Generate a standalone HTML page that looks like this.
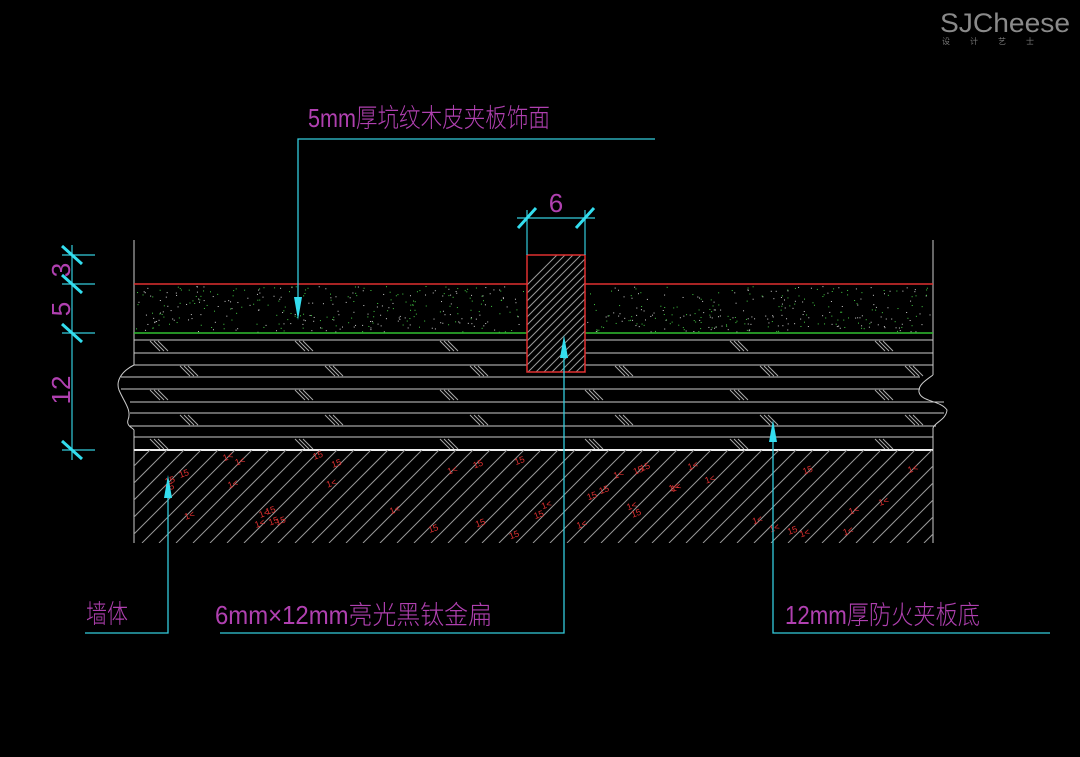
<!DOCTYPE html>
<html><head><meta charset="utf-8"><style>
html,body{margin:0;padding:0;background:#000;width:1080px;height:757px;overflow:hidden}
text{font-family:"Liberation Sans","Noto Sans CJK SC",sans-serif}
</style></head><body>
<svg id="s" width="1080" height="757" viewBox="0 0 1080 757" xmlns="http://www.w3.org/2000/svg">
<defs>
<clipPath id="wall"><rect x="134" y="450" width="799" height="93"/></clipPath>
<clipPath id="box"><rect x="527" y="255" width="58" height="117"/></clipPath>
</defs>
<rect width="1080" height="757" fill="#000"/>
<text x="940" y="32" font-size="27" fill="#8a8a8a" textLength="130" lengthAdjust="spacingAndGlyphs">SJCheese</text>
<text x="942" y="44" font-size="8" fill="#777" letter-spacing="20">设计艺士</text>

<g id="dots"></g>
<g stroke="#ccc" stroke-width="1" fill="none">
<line x1="134" y1="240" x2="134" y2="365"/>
<line x1="134" y1="430" x2="134" y2="543"/>
<path d="M134 365 C120 372 116 382 119 390 C124 402 132 410 128 420 C126 426 133 428 134 430"/>
<line x1="933" y1="240" x2="933" y2="375"/>
<line x1="933" y1="428" x2="933" y2="543"/>
<path d="M933 375 C926 380 918 385 919 392 C921 402 940 400 947 410 C946 420 935 422 933 428"/>
<g id="hl"></g>
<g id="ht"></g>
</g>
<line x1="134" y1="450" x2="933" y2="450" stroke="#eee" stroke-width="2"/>
<g clip-path="url(#wall)" stroke="#999" stroke-width="1" id="wh"></g>
<g id="red" fill="#e03030" font-size="9"></g>
<line x1="134" y1="284" x2="527" y2="284" stroke="#e03030" stroke-width="1.5"/>
<line x1="585" y1="284" x2="933" y2="284" stroke="#e03030" stroke-width="1.5"/>
<line x1="134" y1="333" x2="527" y2="333" stroke="#30c030" stroke-width="1.5"/>
<line x1="585" y1="333" x2="933" y2="333" stroke="#30c030" stroke-width="1.5"/>
<rect x="527" y="255" width="58" height="117" fill="#000"/>
<g clip-path="url(#box)" stroke="#999" stroke-width="1" id="bh"></g>
<rect x="527" y="255" width="58" height="117" fill="none" stroke="#e03030" stroke-width="1.5"/>

<g stroke="#3cd" stroke-width="1.2">
<line x1="72" y1="245" x2="72" y2="460"/>
<line x1="62" y1="255" x2="95" y2="255"/><line x1="62" y1="284" x2="95" y2="284"/>
<line x1="62" y1="333" x2="95" y2="333"/><line x1="62" y1="450" x2="95" y2="450"/>
<line x1="517" y1="218" x2="595" y2="218"/>
<line x1="527" y1="210" x2="527" y2="255"/><line x1="585" y1="210" x2="585" y2="255"/>
</g>
<g stroke="#3de" stroke-width="3">
<line x1="62" y1="246" x2="82" y2="264"/><line x1="62" y1="275" x2="82" y2="293"/>
<line x1="62" y1="324" x2="82" y2="342"/><line x1="62" y1="441" x2="82" y2="459"/>
<line x1="518" y1="228" x2="536" y2="208"/><line x1="576" y1="228" x2="594" y2="208"/>
</g>
<g fill="#b040b0" font-size="26" font-weight="300">
<text transform="translate(70,270) rotate(-90)" text-anchor="middle">3</text>
<text transform="translate(70,309) rotate(-90)" text-anchor="middle">5</text>
<text transform="translate(70,390) rotate(-90)" text-anchor="middle">12</text>
<text x="556" y="212" text-anchor="middle">6</text>
<text x="308" y="127" textLength="242" lengthAdjust="spacingAndGlyphs">5mm厚坑纹木皮夹板饰面</text>
<text x="86" y="623" textLength="42" lengthAdjust="spacingAndGlyphs">墙体</text>
<text x="215" y="624" textLength="277" lengthAdjust="spacingAndGlyphs">6mm×12mm亮光黑钛金扁</text>
<text x="785" y="624" textLength="195" lengthAdjust="spacingAndGlyphs">12mm厚防火夹板底</text>
</g>
<g stroke="#3cd" stroke-width="1.3" fill="none">
<polyline points="655,139 298,139 298,300"/>
<polyline points="85,633 168,633 168,490"/>
<polyline points="220,633 564,633 564,350"/>
<polyline points="1050,633 773,633 773,435"/>
</g>
<g fill="#3de">
<polygon points="294,297 302,297 298,320"/>
<polygon points="164,498 172,498 168,475"/>
<polygon points="560,358 568,358 564,335"/>
<polygon points="769,442 777,442 773,420"/>
</g>
</svg>
<script>
var NS="http://www.w3.org/2000/svg";
function el(p,t,a){var e=document.createElementNS(NS,t);for(var k in a)e.setAttribute(k,a[k]);p.appendChild(e);return e;}
var seed=7;function r(){seed=(seed*16807)%2147483647;return seed/2147483647;}
var d=document.getElementById('dots');
for(var i=0;i<700;i++){var x=136+r()*795,y=286+r()*46;if(x>525&&x<587)continue;el(d,'rect',{x:x,y:y,width:1,height:1,fill:r()<0.5?'#4c4':'#ccc'});}
var hl=document.getElementById('hl');
[340,353,365,377,389,402,413,426,437].forEach(function(y){
 var x1=134,x2=933;
 if(y>365&&y<430)x1=(y<392?121:130);
 if(y>375&&y<428)x2=(y<395?920:(y<415?944:936));
 el(hl,'line',{x1:x1,y1:y,x2:x2,y2:y});
});
var ht=document.getElementById('ht');
var rows=[[346,150],[371,180],[395,150],[420,180],[444,150]];
rows.forEach(function(rw){for(var x=rw[1];x<925;x+=145){if(x>515&&x<595&&rw[0]<372)continue;for(var k=0;k<3;k++)el(ht,'line',{x1:x+k*4,y1:rw[0]-5,x2:x+k*4+10,y2:rw[0]+5,stroke:'#aaa'});}});
var wh=document.getElementById('wh');
for(var x=40;x<1050;x+=17)el(wh,'line',{x1:x,y1:543,x2:x+93,y2:450});
var bh=document.getElementById('bh');
for(var x=440;x<600;x+=8)el(bh,'line',{x1:x,y1:372,x2:x+117,y2:255});
var rd=document.getElementById('red');
for(var i=0;i<45;i++){var x=150+r()*770,y=458+r()*82;var t=el(rd,'text',{x:x,y:y,transform:'rotate(-20 '+x+' '+y+')'});t.textContent=r()<0.5?'1<':'15';}
</script>
</body></html>
